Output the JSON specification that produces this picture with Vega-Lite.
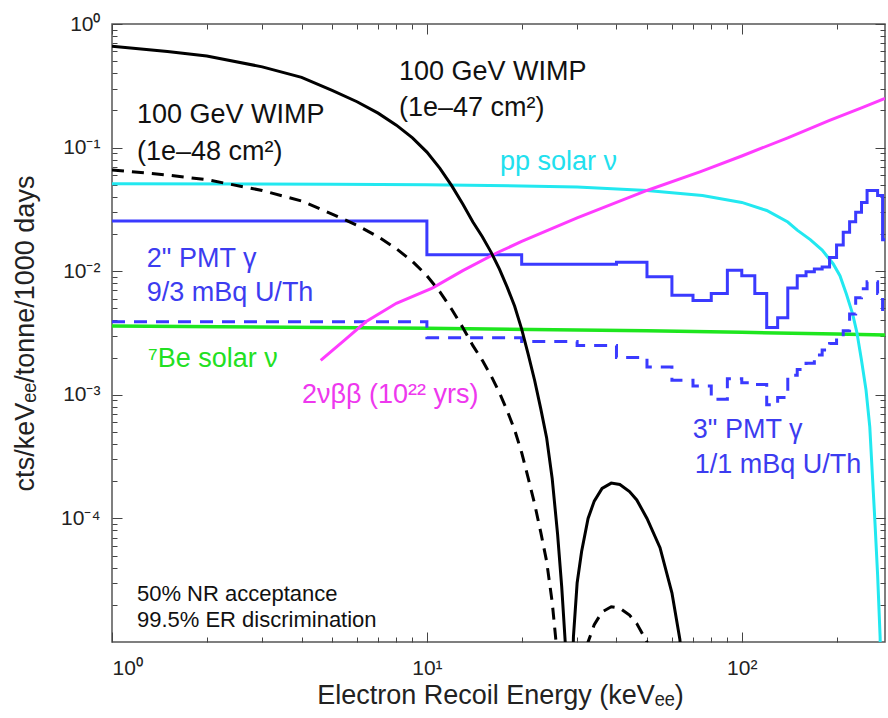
{
  "$schema": "https://vega.github.io/schema/vega-lite/v6.json",
  "width": 773,
  "height": 618,
  "autosize": {"type": "none"},
  "padding": {"left": 112, "top": 24, "right": 3, "bottom": 76},
  "background": "white",
  "config": {
    "view": {"stroke": "#555555", "strokeWidth": 1.5},
    "font": "Liberation Sans",
    "axis": {
      "grid": false, "domain": false, "tickColor": "#444444", "tickWidth": 1,
      "labelFont": "Liberation Sans", "labelFontSize": 21, "labelColor": "#222222",
      "titleFont": "Liberation Sans", "titleFontSize": 27, "titleFontWeight": "normal", "titleColor": "#222222"
    }
  },
  "datasets": {
    "wimp47": [
      {"x":1,"y":0.66},{"x":1.5,"y":0.60},{"x":2,"y":0.55},{"x":3,"y":0.45},{"x":4,"y":0.37},{"x":5,"y":0.29},{"x":6,"y":0.235},{"x":7,"y":0.19},{"x":8,"y":0.152},{"x":9,"y":0.12},{"x":10,"y":0.092},{"x":11,"y":0.068},{"x":12,"y":0.049},{"x":13,"y":0.035},{"x":14,"y":0.025},{"x":15,"y":0.019},{"x":16,"y":0.0142},{"x":17,"y":0.0104},{"x":18,"y":0.0074},{"x":19,"y":0.0052},{"x":20,"y":0.0034},{"x":21,"y":0.0021},{"x":22,"y":0.0013},{"x":23,"y":0.00077},{"x":24,"y":0.00045},{"x":25,"y":0.00021},{"x":26,"y":0.000075},{"x":26.8,"y":0.000028},{"x":27.5,"y":0.00001},{"x":28,"y":0.0000025},{"x":28.4,"y":0.00000001},{"x":28.8,"y":0.0000025},{"x":29.2,"y":0.000011},{"x":30,"y":0.00003},{"x":31,"y":0.000054},{"x":32.5,"y":0.0001},{"x":34,"y":0.000138},{"x":36,"y":0.000175},{"x":38.5,"y":0.000193},{"x":41,"y":0.000188},{"x":44,"y":0.000165},{"x":46.4,"y":0.000141},{"x":50,"y":0.0001},{"x":55,"y":0.000058},{"x":60,"y":0.000025},{"x":63.6,"y":0.0000105},{"x":66,"y":0.000003},{"x":68,"y":0.0000005}
    ],
    "wimp48": [
      {"x":1,"y":0.066},{"x":1.5,"y":0.060},{"x":2,"y":0.055},{"x":3,"y":0.045},{"x":4,"y":0.037},{"x":5,"y":0.029},{"x":6,"y":0.0235},{"x":7,"y":0.019},{"x":8,"y":0.0152},{"x":9,"y":0.012},{"x":10,"y":0.0092},{"x":11,"y":0.0068},{"x":12,"y":0.0049},{"x":13,"y":0.0035},{"x":14,"y":0.0025},{"x":15,"y":0.0019},{"x":16,"y":0.00142},{"x":17,"y":0.00104},{"x":18,"y":0.00074},{"x":19,"y":0.00052},{"x":20,"y":0.00034},{"x":21,"y":0.00021},{"x":22,"y":0.00013},{"x":23,"y":0.000077},{"x":24,"y":0.000045},{"x":25,"y":0.000021},{"x":26,"y":0.0000075},{"x":26.8,"y":0.0000028},{"x":27.5,"y":0.000001},{"x":28,"y":0.00000025},{"x":28.4,"y":0.000000001},{"x":28.8,"y":0.00000025},{"x":29.2,"y":0.0000011},{"x":30,"y":0.000003},{"x":31,"y":0.0000054},{"x":32.5,"y":0.00001},{"x":34,"y":0.0000138},{"x":36,"y":0.0000175},{"x":38.5,"y":0.0000193},{"x":41,"y":0.0000188},{"x":44,"y":0.0000165},{"x":46.4,"y":0.0000141},{"x":50,"y":0.00001},{"x":55,"y":0.0000058},{"x":60,"y":0.0000025}
    ],
    "pp": [
      {"x":1,"y":0.051},{"x":5,"y":0.0505},{"x":10,"y":0.050},{"x":20,"y":0.049},{"x":30,"y":0.048},{"x":50,"y":0.045},{"x":75,"y":0.041},{"x":100,"y":0.036},{"x":120,"y":0.031},{"x":140,"y":0.025},{"x":150,"y":0.0215},{"x":165,"y":0.018},{"x":180,"y":0.0148},{"x":195,"y":0.0115},{"x":205,"y":0.0092},{"x":215,"y":0.0065},{"x":225,"y":0.0045},{"x":232,"y":0.0032},{"x":240,"y":0.0019},{"x":248,"y":0.0011},{"x":255,"y":0.00055},{"x":260,"y":0.00022},{"x":265,"y":0.00009},{"x":270,"y":0.000035},{"x":275,"y":0.000011},{"x":280,"y":0.000001}
    ],
    "be7": [
      {"x":1,"y":0.0036},{"x":10,"y":0.00345},{"x":50,"y":0.0033},{"x":100,"y":0.0032},{"x":200,"y":0.0031},{"x":285,"y":0.00305}
    ],
    "bb": [
      {"x":4.6,"y":0.0019},{"x":5.5,"y":0.0028},{"x":6.4,"y":0.0039},{"x":8,"y":0.0055},{"x":10.4,"y":0.0073},{"x":13,"y":0.0101},{"x":16.7,"y":0.0141},{"x":20,"y":0.0174},{"x":30,"y":0.027},{"x":50,"y":0.045},{"x":74,"y":0.064},{"x":100,"y":0.0855},{"x":140,"y":0.12},{"x":190,"y":0.166},{"x":240,"y":0.21},{"x":285,"y":0.25}
    ],
    "pmt2": [
      {"x":1,"y":0.0255},{"x":10,"y":0.0136},{"x":20,"y":0.0114},{"x":40,"y":0.0118},{"x":50,"y":0.009},{"x":60,"y":0.0064},{"x":70,"y":0.0058},{"x":80,"y":0.0066},{"x":90,"y":0.0102},{"x":100,"y":0.0092},{"x":110,"y":0.0066},{"x":120,"y":0.0035},{"x":130,"y":0.0042},{"x":140,"y":0.0073},{"x":150,"y":0.0092},{"x":160,"y":0.0099},{"x":170,"y":0.0104},{"x":180,"y":0.0108},{"x":190,"y":0.0129},{"x":200,"y":0.0163},{"x":210,"y":0.0207},{"x":220,"y":0.0251},{"x":230,"y":0.030},{"x":240,"y":0.036},{"x":250,"y":0.045},{"x":270,"y":0.041},{"x":280,"y":0.018},{"x":285,"y":0.018}
    ],
    "pmt3": [
      {"x":1,"y":0.0039},{"x":10,"y":0.0029},{"x":20,"y":0.0027},{"x":30,"y":0.0025},{"x":40,"y":0.002},{"x":50,"y":0.00168},{"x":60,"y":0.00131},{"x":70,"y":0.00118},{"x":80,"y":0.00092},{"x":90,"y":0.00135},{"x":100,"y":0.00125},{"x":110,"y":0.00121},{"x":120,"y":0.00083},{"x":130,"y":0.00095},{"x":140,"y":0.00144},{"x":150,"y":0.0016},{"x":160,"y":0.0018},{"x":170,"y":0.0021},{"x":180,"y":0.0023},{"x":190,"y":0.0026},{"x":200,"y":0.0029},{"x":210,"y":0.0033},{"x":220,"y":0.0045},{"x":230,"y":0.0061},{"x":240,"y":0.0072},{"x":250,"y":0.0082},{"x":270,"y":0.0066},{"x":280,"y":0.0044},{"x":285,"y":0.0044}
    ],
    "labels": [
      {"g":"wimp","t":"100 GeV WIMP","x":1.2,"y":0.158},
      {"g":"wimp","t":"(1e–48 cm²)","x":1.2,"y":0.0794},
      {"g":"wimp","t":"100 GeV WIMP","x":8.15,"y":0.352},
      {"g":"wimp","t":"(1e–47 cm²)","x":8.15,"y":0.18},
      {"g":"pp","t":"pp solar ν","x":17.06,"y":0.0659},
      {"g":"pmt","t":"2\" PMT γ","x":1.29,"y":0.0108},
      {"g":"pmt","t":"9/3 mBq U/Th","x":1.29,"y":0.00574},
      {"g":"be","t":"⁷Be solar ν","x":1.30,"y":0.00168},
      {"g":"bb","t":"2νββ (10²² yrs)","x":4.01,"y":0.000858},
      {"g":"pmt","t":"3\" PMT γ","x":69.9,"y":0.000447},
      {"g":"pmt","t":"1/1 mBq U/Th","x":70.9,"y":0.000235},
      {"g":"note","t":"50% NR acceptance","x":1.2,"y":0.0000215},
      {"g":"note","t":"99.5% ER discrimination","x":1.2,"y":0.0000132}
    ]
  },
  "layer": [
    {
      "data": {"name": "be7"},
      "mark": {"type": "line", "color": "#1ee61e", "strokeWidth": 3.5, "clip": true},
      "encoding": {
        "x": {"field": "x", "type": "quantitative", "scale": {"type": "log", "domain": [1, 285]},
          "axis": {"orient": "bottom", "values": [1, 10, 100], "tickSize": -10,
            "labelExpr": "datum.value < 5 ? '10⁰' : datum.value < 50 ? '10¹' : '10²'",
            "labelBaseline": "alphabetic", "labelPadding": 42,
            "title": "Electron Recoil Energy (keVₑₑ)", "titleX": 388, "titleY": 61, "titleBaseline": "alphabetic"}},
        "y": {"field": "y", "type": "quantitative", "scale": {"type": "log", "domain": [0.00001, 1]},
          "axis": {"orient": "left", "values": [1, 0.1, 0.01, 0.001, 0.0001], "tickSize": -10,
            "labelExpr": "datum.value > 0.5 ? '10⁰' : datum.value > 0.05 ? '10⁻¹' : datum.value > 0.005 ? '10⁻²' : datum.value > 0.0005 ? '10⁻³' : '10⁻⁴'",
            "labelPadding": 22, "labelBaseline": "middle",
            "title": "cts/keVₑₑ/tonne/1000 days", "titleX": -79, "titleY": 309, "titleBaseline": "alphabetic", "titleAngle": 270}}
      }
    },
    {
      "data": {"name": "pp"},
      "mark": {"type": "line", "color": "#22e8f0", "strokeWidth": 3, "clip": true},
      "encoding": {
        "x": {"field": "x", "type": "quantitative", "scale": {"type": "log", "domain": [1, 285]},
          "axis": {"orient": "bottom", "values": [2,3,4,5,6,7,8,9,20,30,40,50,60,70,80,90,200], "tickSize": -5, "labels": false, "title": null}},
        "y": {"field": "y", "type": "quantitative", "scale": {"type": "log", "domain": [0.00001, 1]},
          "axis": {"orient": "left", "values": [0.00002,0.00003,0.00004,0.00005,0.00006,0.00007,0.00008,0.00009,0.0002,0.0003,0.0004,0.0005,0.0006,0.0007,0.0008,0.0009,0.002,0.003,0.004,0.005,0.006,0.007,0.008,0.009,0.02,0.03,0.04,0.05,0.06,0.07,0.08,0.09,0.2,0.3,0.4,0.5,0.6,0.7,0.8,0.9], "tickSize": -5, "labels": false, "title": null}}
      }
    },
    {
      "data": {"name": "pmt3"},
      "mark": {"type": "line", "color": "#3a3aff", "strokeWidth": 3, "interpolate": "step-after", "strokeDash": [13, 9], "clip": true},
      "encoding": {
        "x": {"field": "x", "type": "quantitative", "scale": {"type": "log", "domain": [1, 285]},
          "axis": {"orient": "top", "values": [1, 10, 100], "tickSize": -10, "labels": false, "title": null}},
        "y": {"field": "y", "type": "quantitative", "scale": {"type": "log", "domain": [0.00001, 1]},
          "axis": {"orient": "right", "values": [1, 0.1, 0.01, 0.001, 0.0001], "tickSize": -10, "labels": false, "title": null}}
      }
    },
    {
      "data": {"name": "pmt2"},
      "mark": {"type": "line", "color": "#3a3aff", "strokeWidth": 3, "interpolate": "step-after", "clip": true},
      "encoding": {
        "x": {"field": "x", "type": "quantitative", "scale": {"type": "log", "domain": [1, 285]},
          "axis": {"orient": "top", "values": [2,3,4,5,6,7,8,9,20,30,40,50,60,70,80,90,200], "tickSize": -5, "labels": false, "title": null}},
        "y": {"field": "y", "type": "quantitative", "scale": {"type": "log", "domain": [0.00001, 1]},
          "axis": {"orient": "right", "values": [0.00002,0.00003,0.00004,0.00005,0.00006,0.00007,0.00008,0.00009,0.0002,0.0003,0.0004,0.0005,0.0006,0.0007,0.0008,0.0009,0.002,0.003,0.004,0.005,0.006,0.007,0.008,0.009,0.02,0.03,0.04,0.05,0.06,0.07,0.08,0.09,0.2,0.3,0.4,0.5,0.6,0.7,0.8,0.9], "tickSize": -5, "labels": false, "title": null}}
      }
    },
    {
      "data": {"name": "bb"},
      "mark": {"type": "line", "color": "#ff3cff", "strokeWidth": 3, "clip": true},
      "encoding": {
        "x": {"field": "x", "type": "quantitative", "scale": {"type": "log", "domain": [1, 285]}, "axis": null},
        "y": {"field": "y", "type": "quantitative", "scale": {"type": "log", "domain": [0.00001, 1]}, "axis": null}
      }
    },
    {
      "data": {"name": "wimp48"},
      "mark": {"type": "line", "color": "#000000", "strokeWidth": 3, "strokeDash": [12, 8], "clip": true},
      "encoding": {
        "x": {"field": "x", "type": "quantitative", "scale": {"type": "log", "domain": [1, 285]}, "axis": null},
        "y": {"field": "y", "type": "quantitative", "scale": {"type": "log", "domain": [0.00001, 1]}, "axis": null}
      }
    },
    {
      "data": {"name": "wimp47"},
      "mark": {"type": "line", "color": "#000000", "strokeWidth": 3, "clip": true},
      "encoding": {
        "x": {"field": "x", "type": "quantitative", "scale": {"type": "log", "domain": [1, 285]}, "axis": null},
        "y": {"field": "y", "type": "quantitative", "scale": {"type": "log", "domain": [0.00001, 1]}, "axis": null}
      }
    },
    {
      "data": {"name": "labels"},
      "transform": [{"filter": "datum.g != 'note'"}],
      "mark": {"type": "text", "align": "left", "baseline": "alphabetic", "fontSize": 27, "font": "Liberation Sans"},
      "encoding": {
        "x": {"field": "x", "type": "quantitative", "scale": {"type": "log", "domain": [1, 285]}, "axis": null},
        "y": {"field": "y", "type": "quantitative", "scale": {"type": "log", "domain": [0.00001, 1]}, "axis": null},
        "text": {"field": "t"},
        "color": {"field": "g", "type": "nominal", "legend": null,
          "scale": {"domain": ["wimp", "pp", "pmt", "be", "bb"], "range": ["#111111", "#22e0ee", "#3c3cf0", "#22e022", "#ee38ee"]}}
      }
    },
    {
      "data": {"name": "labels"},
      "transform": [{"filter": "datum.g == 'note'"}],
      "mark": {"type": "text", "align": "left", "baseline": "alphabetic", "fontSize": 22, "font": "Liberation Sans", "color": "#111111"},
      "encoding": {
        "x": {"field": "x", "type": "quantitative", "scale": {"type": "log", "domain": [1, 285]}, "axis": null},
        "y": {"field": "y", "type": "quantitative", "scale": {"type": "log", "domain": [0.00001, 1]}, "axis": null},
        "text": {"field": "t"}
      }
    }
  ],
  "resolve": {"axis": {"x": "independent", "y": "independent"}}
}
